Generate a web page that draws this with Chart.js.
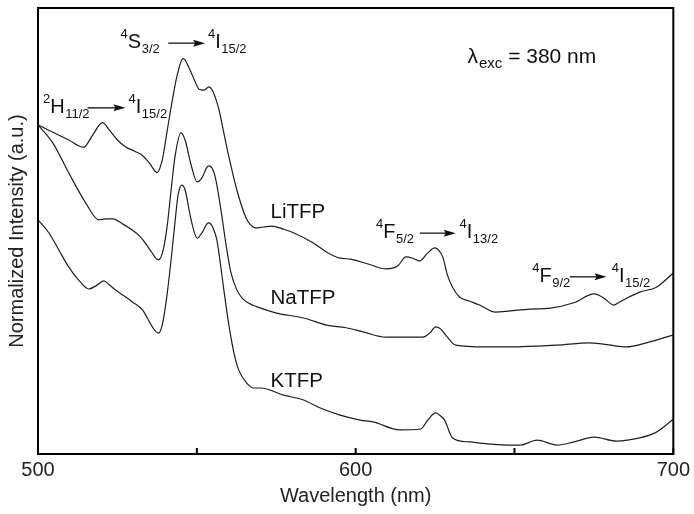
<!DOCTYPE html>
<html>
<head>
<meta charset="utf-8">
<script src="https://cdn.jsdelivr.net/npm/chart.js@4.4.0/dist/chart.umd.min.js"></script>
<style>
  html, body { margin: 0; padding: 0; background: #fff; }
</style>
</head>
<body>
<canvas id="spectre" width="694" height="514"></canvas>
<script>
// ==================== DONNÉES : SPECTRES D'ÉMISSION (λexc = 380 nm) ====================
// [longueur d'onde (nm), intensité normalisée (u.a.)]
const liTFP = [
  [500, 73.8], [509.7, 70.4], [514.4, 68.8], [517.2, 71.5], [520.3, 74.3], [522.5, 72.6],
  [525.0, 70.4], [527.5, 68.9], [530.4, 67.9], [532.8, 67.0], [535.1, 65.2], [537.5, 63.1],
  [539.1, 65.9], [540.7, 72.6], [542.3, 79.4], [543.8, 84.9], [545.7, 88.7], [547.6, 86.5],
  [549.5, 83.4], [550.7, 81.8], [552.3, 81.6], [553.8, 82.3], [555.1, 81.2], [557.0, 77.1],
  [558.5, 72.0], [560.1, 66.6], [562.6, 59.2], [565.4, 53.1], [567.0, 51.3], [568.5, 50.7],
  [571.0, 50.9], [573.6, 51.1], [577.3, 50.4], [580.4, 49.6], [586.7, 47.3], [590.8, 45.3],
  [595.1, 43.9], [598.3, 43.7], [603.9, 42.6], [609.5, 41.5], [613.3, 42.2], [615.8, 44.2],
  [618.0, 43.9], [620.2, 43.3], [622.7, 45.1], [624.9, 46.2], [626.1, 45.7], [627.4, 44.2],
  [628.9, 40.1], [630.5, 37.4], [632.7, 35.2], [635.8, 34.3], [639.0, 33.4], [644.0, 31.8],
  [648.7, 32.1], [654.9, 32.5], [661.2, 32.7], [668.7, 33.9], [675.0, 35.9], [678.1, 35.0],
  [681.2, 33.4], [683.1, 34.1], [689.4, 36.3], [694.7, 37.4], [700, 40.6]
];

const naTFP = [
  [500, 73.8], [504.7, 69.7], [509.7, 63.0], [515.0, 56.3], [519.1, 52.5], [521.3, 52.7],
  [523.5, 52.7], [526.6, 51.6], [529.7, 50.2], [531.9, 48.9], [533.8, 47.3], [535.7, 45.3],
  [537.9, 43.5], [539.4, 45.7], [540.7, 51.3], [541.9, 59.2], [543.2, 67.0], [545.0, 72.0],
  [546.3, 70.4], [548.2, 64.8], [550.1, 61.0], [551.6, 61.9], [553.2, 64.3], [553.8, 64.6],
  [555.1, 63.7], [556.0, 61.4], [557.6, 54.7], [559.2, 46.9], [560.7, 40.8], [562.6, 36.8],
  [564.2, 35.0], [565.7, 34.1], [570.1, 32.7], [575.1, 31.6], [583.6, 30.5], [590.8, 28.9],
  [597.0, 28.3], [602.3, 27.4], [609.5, 26.2], [621.1, 26.2], [623.3, 27.1], [625.2, 28.5],
  [626.8, 28.0], [628.3, 26.7], [631.5, 24.4], [640.8, 24.0], [648.7, 24.0], [663.4, 24.4],
  [673.7, 24.9], [682.2, 24.2], [685.3, 24.0], [691.5, 24.9], [700, 26.7]
];

const kTFP = [
  [500, 52.5], [503.4, 49.6], [506.6, 45.7], [509.7, 41.9], [512.8, 39.0], [516.0, 37.0],
  [518.2, 37.7], [520.7, 38.8], [522.5, 37.9], [524.4, 36.8], [527.2, 35.4], [529.7, 34.1],
  [532.9, 32.3], [534.4, 30.5], [536.0, 28.5], [537.9, 27.1], [539.1, 28.9], [540.4, 34.5],
  [541.9, 43.5], [543.2, 52.5], [544.1, 58.1], [545.3, 60.3], [546.3, 59.2], [548.2, 52.5],
  [550.1, 48.4], [551.6, 49.6], [553.2, 51.6], [553.8, 51.8], [555.1, 50.7], [556.3, 48.0],
  [557.6, 41.7], [558.5, 36.8], [560.1, 28.9], [561.7, 22.6], [563.2, 18.8], [565.7, 15.9],
  [567.9, 14.8], [570.1, 14.8], [577.3, 13.2], [583.6, 12.1], [588.9, 10.3], [595.1, 8.7],
  [601.4, 7.6], [605.5, 7.2], [613.9, 5.4], [620.5, 5.6], [622.7, 7.6], [625.2, 9.2],
  [626.8, 8.5], [628.0, 7.6], [630.5, 3.6], [635.8, 2.7], [643.0, 2.2], [648.4, 2.0],
  [651.8, 2.0], [657.1, 3.1], [663.4, 2.0], [668.7, 2.7], [675.0, 3.8], [682.2, 2.9],
  [689.4, 3.6], [694.7, 4.9], [700, 7.8]
];

// GRADUATIONS DE L'AXE X
const xMin = 500, xMax = 700, xPas = 50;
const yMin = 0, yMax = 100;

// ÉTIQUETTES DES ÉCHANTILLONS [texte, λ, intensité]
const etiquettes = [
  ["LiTFP", 573.2, 52.9],
  ["NaTFP", 573.2, 33.6],
  ["KTFP", 573.2, 15.0]
];

// TRANSITIONS [sup, lettre, sub, λ début, λ flèche début, λ flèche fin, sup, lettre, sub, λ fin, intensité ligne de base]
const transitions = [
  ["2", "H", "11/2", 501.6, 515.6, 527.5, "4", "I", "15/2", 528.5, 76.5],
  ["4", "S", "3/2", 526.0, 541.0, 552.6, "4", "I", "15/2", 553.5, 91.0],
  ["4", "F", "5/2", 606.4, 620.2, 631.5, "4", "I", "13/2", 632.7, 48.4],
  ["4", "F", "9/2", 655.6, 667.4, 679.0, "4", "I", "15/2", 680.6, 38.6]
];

const POLICE = '"Liberation Sans", Arial, sans-serif';

// ==================== PLUGIN : CADRE, TICKS INTÉRIEURS, ANNOTATIONS ====================
function niveau(ctx, x, y, sup, lettre, sub) {
  ctx.font = "13px " + POLICE;
  ctx.fillText(sup, x, y - 10);
  x += ctx.measureText(sup).width;
  ctx.font = "20px " + POLICE;
  ctx.fillText(lettre, x, y);
  x += ctx.measureText(lettre).width;
  ctx.font = "13px " + POLICE;
  ctx.fillText(sub, x + 0.5, y + 5);
}

function fleche(ctx, x1, x2, y) {
  ctx.beginPath();
  ctx.moveTo(x1, y);
  ctx.lineTo(x2 - 6, y);
  ctx.lineWidth = 1.2;
  ctx.stroke();
  ctx.beginPath();
  ctx.moveTo(x2, y);
  ctx.lineTo(x2 - 12, y - 3.5);
  ctx.lineTo(x2 - 10, y);
  ctx.lineTo(x2 - 12, y + 3.5);
  ctx.closePath();
  ctx.fill();
}

const decor = {
  id: "decor",
  afterDraw(chart) {
    const { ctx, chartArea: a, scales: { x, y } } = chart;
    ctx.save();
    ctx.strokeStyle = "#000";
    ctx.fillStyle = "#111";

    // CADRE
    ctx.lineWidth = 2;
    ctx.strokeRect(a.left, a.top, a.right - a.left, a.bottom - a.top);

    // TICKS VERS L'INTÉRIEUR
    for (const t of x.ticks) {
      const px = x.getPixelForValue(t.value);
      ctx.beginPath();
      ctx.moveTo(px, a.bottom);
      ctx.lineTo(px, a.bottom - 6);
      ctx.stroke();
    }

    // NOMS DES ÉCHANTILLONS
    ctx.textBaseline = "alphabetic";
    ctx.textAlign = "left";
    ctx.font = "20.5px " + POLICE;
    for (const [txt, lx, ly] of etiquettes) {
      ctx.fillText(txt, x.getPixelForValue(lx), y.getPixelForValue(ly));
    }

    // TRANSITIONS
    for (const tr of transitions) {
      const base = y.getPixelForValue(tr[10]);
      niveau(ctx, x.getPixelForValue(tr[3]), base, tr[0], tr[1], tr[2]);
      fleche(ctx, x.getPixelForValue(tr[4]), x.getPixelForValue(tr[5]), base - 5);
      niveau(ctx, x.getPixelForValue(tr[9]), base, tr[6], tr[7], tr[8]);
    }

    // LONGUEUR D'ONDE D'EXCITATION
    let lx = x.getPixelForValue(635.2);
    const ly = y.getPixelForValue(87.7);
    ctx.font = "21px " + POLICE;
    ctx.fillText("λ", lx, ly);
    lx += ctx.measureText("λ").width + 1;
    ctx.font = "15px " + POLICE;
    ctx.fillText("exc", lx, ly + 5);
    lx += ctx.measureText("exc").width;
    ctx.font = "21px " + POLICE;
    ctx.fillText(" = 380 nm", lx, ly);

    ctx.restore();
  }
};

function serie(label, points) {
  return {
    label: label,
    data: points.map(p => ({ x: p[0], y: p[1] })),
    borderColor: "#1e1e1e",
    borderWidth: 1.2,
    pointRadius: 0,
    fill: false,
    cubicInterpolationMode: "monotone"
  };
}

// ==================== GRAPHIQUE ====================
new Chart(document.getElementById("spectre"), {
  type: "line",
  data: {
    datasets: [serie("LiTFP", liTFP), serie("NaTFP", naTFP), serie("KTFP", kTFP)]
  },
  options: {
    responsive: false,
    animation: false,
    layout: { padding: { left: 0, right: 17, top: 8, bottom: 0 } },
    plugins: {
      legend: { display: false },
      tooltip: { enabled: false }
    },
    scales: {
      x: {
        type: "linear",
        min: xMin,
        max: xMax,
        grid: { drawOnChartArea: false, drawTicks: false },
        border: { display: false },
        ticks: {
          stepSize: xPas,
          maxRotation: 0,
          autoSkip: false,
          padding: 4,
          color: "#222",
          font: { family: POLICE, size: 20 },
          callback: v => (v % 100 === 0 ? String(v) : "")
        },
        title: {
          display: true,
          text: "Wavelength (nm)",
          color: "#222",
          padding: { top: 0, bottom: 6 },
          font: { family: POLICE, size: 20 }
        },
        afterFit(s) { s.height = 60; }
      },
      y: {
        min: yMin,
        max: yMax,
        grid: { display: false },
        border: { display: false },
        ticks: { display: false },
        title: {
          display: true,
          text: "Normalized Intensity (a.u.)",
          color: "#222",
          padding: { top: 5, bottom: 0 },
          font: { family: POLICE, size: 20 }
        },
        afterFit(s) { s.width = 38; }
      }
    }
  },
  plugins: [decor]
});
</script>
</body>
</html>
